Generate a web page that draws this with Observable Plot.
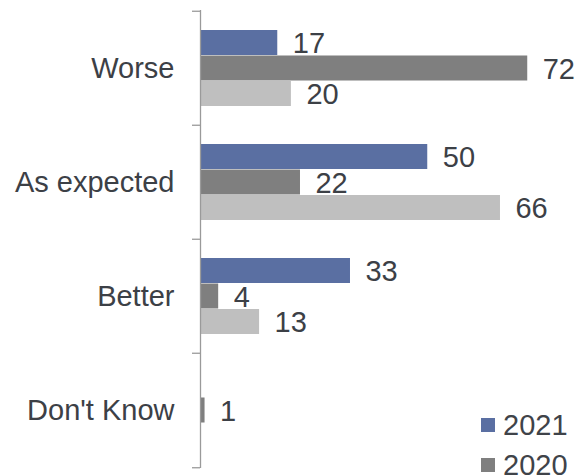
<!DOCTYPE html>
<html>
<head>
<meta charset="utf-8">
<script src="https://cdn.jsdelivr.net/npm/d3@7"></script>
<script src="https://cdn.jsdelivr.net/npm/@observablehq/plot@0.6"></script>
<style>
  html, body { margin: 0; padding: 0; background: #fff; overflow: hidden; }
  body { width: 577px; height: 476px; position: relative; font-family: "Liberation Sans", Arial, sans-serif; }
  #legend { position: absolute; left: 481px; top: 405px; }
  .item { display: flex; align-items: center; height: 40px; font-size: 29px; line-height: 1; color: #3f4349; }
  .sw { width: 14px; height: 14px; margin-right: 8px; }
</style>
</head>
<body>
<div id="chart"></div>
<div id="legend"></div>
<script>
// ---- data ----
const categories = ["Worse", "As expected", "Better", "Don't Know"];
const series = ["2021", "2020", "2019"];
const values2021 = [17, 50, 33, null];
const values2020 = [72, 22, 4, 1];
const values2019 = [20, 66, 13, null];
const seriesColors = ["#5a6fa2", "#7f7f7f", "#bfbfbf"];
// legend entries visible within the picture
const legendSeries = ["2021", "2020"];

// ---- layout ----
const W = 577, H = 476;
const mL = 200, mR = 13.4, mT = 10, mB = 8;
const step = (H - mT - mB) / categories.length;
const groupPad = 19;
const barH = (step - 2 * groupPad) / series.length;
const textColor = "#3c4046";
const axisColor = "#9a9a9a";

const valuesBySeries = [values2021, values2020, values2019];
const data = categories.flatMap((c, i) =>
  series.map((s, j) => ({category: c, series: s, value: valuesBySeries[j][i]}))
).filter(d => d.value != null);

const marks = [];
series.forEach((s, j) => {
  const rows = data.filter(d => d.series === s);
  marks.push(Plot.barX(rows, {
    x: "value", y: "category", fill: seriesColors[j],
    insetTop: groupPad + j * barH,
    insetBottom: step - groupPad - (j + 1) * barH
  }));
  marks.push(Plot.text(rows, {
    x: "value", y: "category", text: d => String(d.value),
    textAnchor: "start", dx: 15, dy: (j - 1) * barH + 1,
    fill: textColor, fontSize: 29
  }));
});
// axis line and boundary ticks
marks.push(Plot.ruleX([0], {stroke: axisColor, strokeWidth: 1.3}));
marks.push(Plot.ruleY(categories, {y: d => d, x1: 0, x2: 0, insetLeft: -8, dy: -step / 2, stroke: axisColor, strokeWidth: 1.3}));
marks.push(Plot.ruleY(categories.slice(-1), {y: d => d, x1: 0, x2: 0, insetLeft: -8, dy: step / 2, stroke: axisColor, strokeWidth: 1.3}));
marks.push(Plot.axisY({tickSize: 0, tickPadding: 26, fontSize: 29, fill: textColor, label: null}));

const chart = Plot.plot({
  width: W, height: H,
  marginLeft: mL, marginRight: mR, marginTop: mT, marginBottom: mB,
  style: {fontFamily: "'Liberation Sans', Arial, sans-serif", fontSize: "29px", background: "#fff", overflow: "visible"},
  x: {domain: [0, 80], axis: null},
  y: {domain: categories, padding: 0, axis: null},
  marks
});
document.getElementById("chart").appendChild(chart);

// legend
const legend = document.getElementById("legend");
legendSeries.forEach(s => {
  const j = series.indexOf(s);
  const item = document.createElement("div");
  item.className = "item";
  const sw = document.createElement("span");
  sw.className = "sw";
  sw.style.background = seriesColors[j];
  const t = document.createElement("span");
  t.textContent = s;
  item.appendChild(sw);
  item.appendChild(t);
  legend.appendChild(item);
});
</script>
</body>
</html>
